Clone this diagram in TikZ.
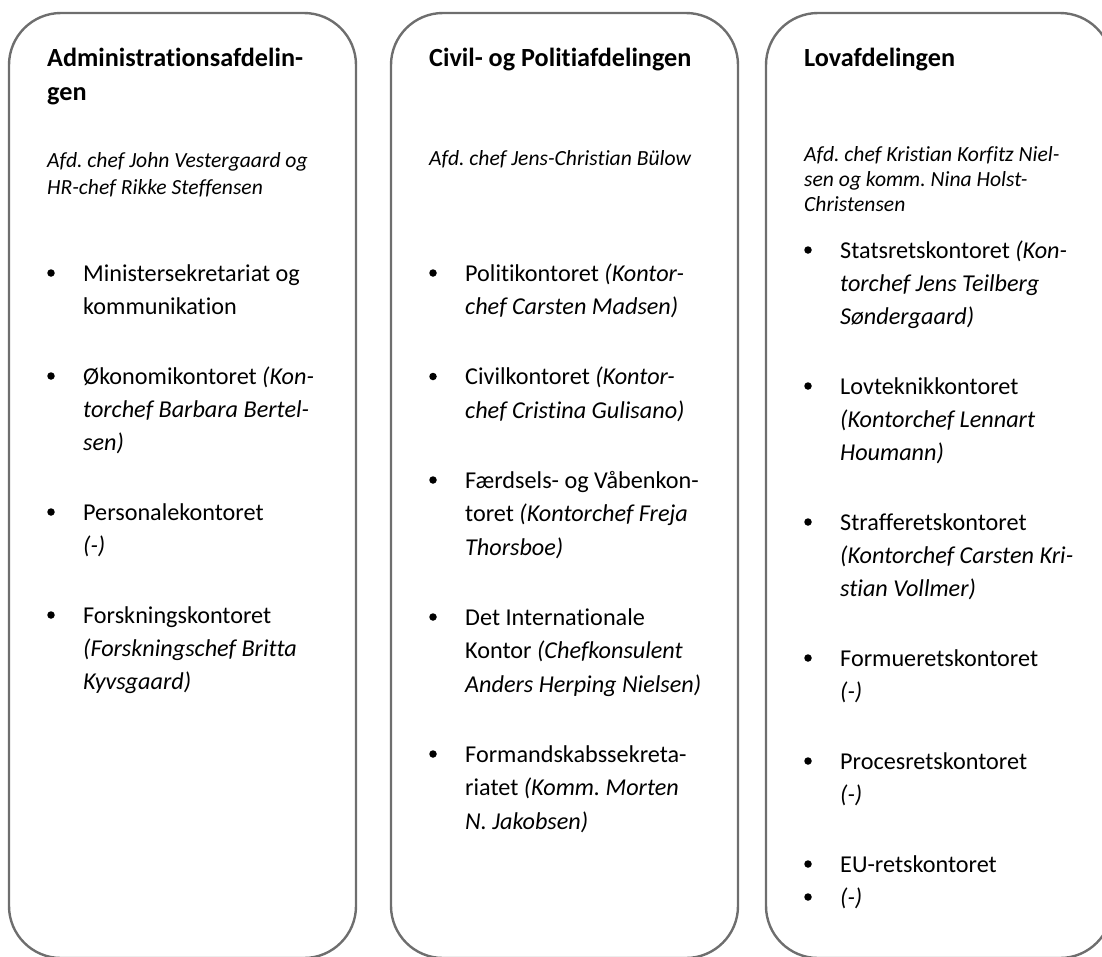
\documentclass[tikz,border=0pt]{standalone}
\usepackage{fontspec}
\setmainfont{Carlito}[Ligatures=NoCommon]
\definecolor{boxgray}{RGB}{110,110,110}
\frenchspacing
\begin{document}
\begin{tikzpicture}[x=1pt,y=-1pt,
  dept/.style={draw=boxgray, line width=2.4pt, rounded corners=52pt},
  ttl/.style={anchor=base west, inner sep=0pt, font=\fontsize{26.2}{30}\selectfont\bfseries},
  sub/.style={anchor=base west, inner sep=0pt, font=\fontsize{21.6}{26}\selectfont\itshape},
  txt/.style={anchor=base west, inner sep=0pt, font=\fontsize{24.2}{28}\selectfont},
  dot/.style={circle, fill=black, inner sep=0pt, minimum size=7.5pt}]
\useasboundingbox (0,0) rectangle (1102,956);
\clip (0,0) rectangle (1102,956);
% boxes
\draw[dept] (9,13) rectangle (356,958);
\draw[dept] (391,13) rectangle (738,958);
\draw[dept] (766,13) rectangle (1112,958);

% ---------- Box 1 ----------
\node[ttl] (a-t1) at (47,66) {Administrationsafdelin-};
\node[ttl] (a-t2) at (47,100) {gen};
\node[sub] (a-s1) at (47,167) {Afd. chef John Vestergaard og};
\node[sub] (a-s2) at (47,194) {HR-chef Rikke Steffensen};
\node[dot] (a-b1) at (51,273) {};
\node[txt] (a-1a) at (83,281) {Ministersekretariat og};
\node[txt] (a-1b) at (83,314) {kommunikation};
\node[dot] (a-b2) at (51,376) {};
\node[txt] (a-2a) at (83,384) {Økonomikontoret \textit{(Kon-}};
\node[txt] (a-2b) at (83,417) {\textit{torchef Barbara Bertel-}};
\node[txt] (a-2c) at (83,450) {\textit{sen)}};
\node[dot] (a-b3) at (51,512) {};
\node[txt] (a-3a) at (83,520) {Personalekontoret};
\node[txt] (a-3b) at (83,553) {\textit{(-)}};
\node[dot] (a-b4) at (51,615) {};
\node[txt] (a-4a) at (83,623) {Forskningskontoret};
\node[txt] (a-4b) at (83,656) {\textit{(Forskningschef Britta}};
\node[txt] (a-4c) at (83,689) {\textit{Kyvsgaard)}};

% ---------- Box 2 ----------
\node[ttl] (b-t1) at (429,66) {Civil- og Politiafdelingen};
\node[sub] (b-s1) at (429,165) {Afd. chef Jens-Christian Bülow};
\node[dot] (b-b1) at (433,273) {};
\node[txt] (b-1a) at (465,281) {Politikontoret \textit{(Kontor-}};
\node[txt] (b-1b) at (465,314.5) {\textit{chef Carsten Madsen)}};
\node[dot] (b-b2) at (433,376.5) {};
\node[txt] (b-2a) at (465,384.5) {Civilkontoret \textit{(Kontor-}};
\node[txt] (b-2b) at (465,418) {\textit{chef Cristina Gulisano)}};
\node[dot] (b-b3) at (433,480) {};
\node[txt] (b-3a) at (465,488) {Færdsels- og Våbenkon-};
\node[txt] (b-3b) at (465,521.5) {toret \textit{(Kontorchef Freja}};
\node[txt] (b-3c) at (465,555) {\textit{Thorsboe)}};
\node[dot] (b-b4) at (433,617) {};
\node[txt] (b-4a) at (465,625) {Det Internationale};
\node[txt] (b-4b) at (465,658.5) {Kontor \textit{(Chefkonsulent}};
\node[txt] (b-4c) at (465,692) {\textit{Anders Herping Nielsen)}};
\node[dot] (b-b5) at (433,754) {};
\node[txt] (b-5a) at (465,762) {Formandskabssekreta-};
\node[txt] (b-5b) at (465,795.5) {riatet \textit{(Komm. Morten}};
\node[txt] (b-5c) at (465,829) {\textit{N. Jakobsen)}};

% ---------- Box 3 ----------
\node[ttl] (c-t1) at (804,66) {Lovafdelingen};
\node[sub] (c-s1) at (804,161) {Afd. chef Kristian Korfitz Niel-};
\node[sub] (c-s2) at (804,186) {sen og komm. Nina Holst-};
\node[sub] (c-s3) at (804,211) {Christensen};
\node[dot] (c-b1) at (808,250) {};
\node[txt] (c-1a) at (840,258) {Statsretskontoret \textit{(Kon-}};
\node[txt] (c-1b) at (840,291) {\textit{torchef Jens Teilberg}};
\node[txt] (c-1c) at (840,324) {\textit{Søndergaard)}};
\node[dot] (c-b2) at (808,386) {};
\node[txt] (c-2a) at (840,394) {Lovteknikkontoret};
\node[txt] (c-2b) at (840,427) {\textit{(Kontorchef Lennart}};
\node[txt] (c-2c) at (840,460) {\textit{Houmann)}};
\node[dot] (c-b3) at (808,522) {};
\node[txt] (c-3a) at (840,530) {Strafferetskontoret};
\node[txt] (c-3b) at (840,563) {\textit{(Kontorchef Carsten Kri-}};
\node[txt] (c-3c) at (840,596) {\textit{stian Vollmer)}};
\node[dot] (c-b4) at (808,658) {};
\node[txt] (c-4a) at (840,666) {Formueretskontoret};
\node[txt] (c-4b) at (840,699) {\textit{(-)}};
\node[dot] (c-b5) at (808,761) {};
\node[txt] (c-5a) at (840,769) {Procesretskontoret};
\node[txt] (c-5b) at (840,802) {\textit{(-)}};
\node[dot] (c-b6) at (808,864) {};
\node[txt] (c-6a) at (840,872) {EU-retskontoret};
\node[dot] (c-b7) at (808,897) {};
\node[txt] (c-7a) at (840,905) {\textit{(-)}};
\end{tikzpicture}
\end{document}
